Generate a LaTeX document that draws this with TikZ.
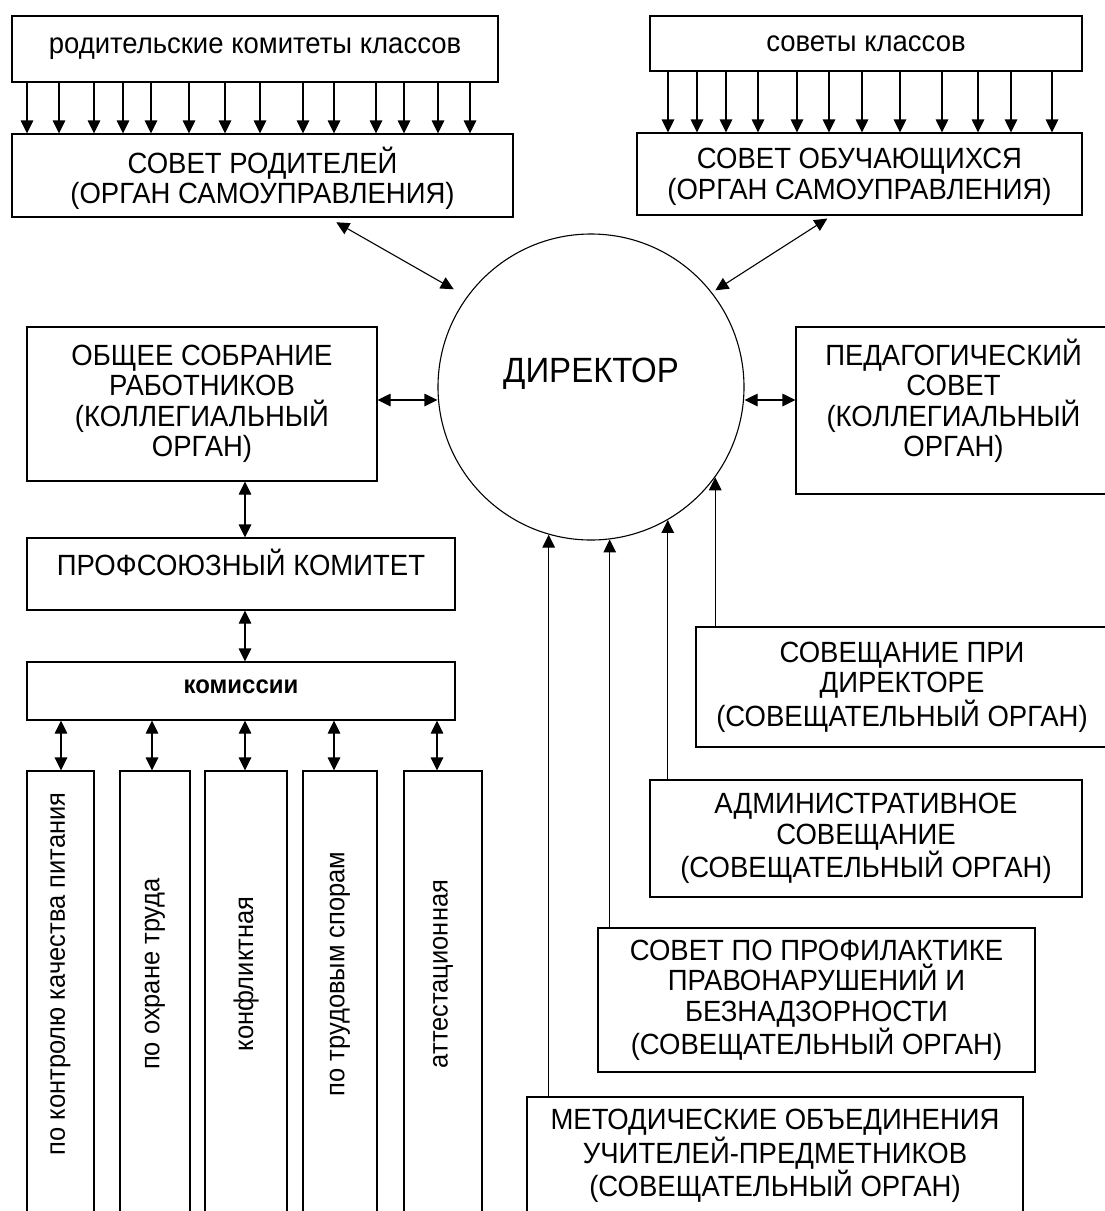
\documentclass[tikz,border=0pt]{standalone}
\usepackage{fontspec}
\setmainfont{Liberation Sans}[FakeStretch=0.94]
\usepackage{graphicx}
\usetikzlibrary{arrows.meta}

\begin{document}
\begin{tikzpicture}[x=1pt,y=-1pt,
    box/.style={draw,line width=1.1pt,inner sep=2pt,align=center,font=\fontsize{29.25}{30.5}\selectfont},
    vbox/.style={box,font=\fontsize{27.1}{28}\selectfont,minimum height=459pt,text depth=53pt},
    arr/.style={-{Triangle[length=13pt,width=12.5pt]},line width=1.1pt},
    darr/.style={{Triangle[length=13pt,width=12.5pt]}-{Triangle[length=13pt,width=12.5pt]},line width=1.1pt}]
    \useasboundingbox (0,0) rectangle (1104,1211);
    % top row
    \node[box,minimum width=486pt,minimum height=66pt] (rk) at (255,49) {родительские комитеты классов};
    \node[box,minimum width=501pt,minimum height=83pt,text depth=0pt] (sr) at (262.5,175.5) {СОВЕТ РОДИТЕЛЕЙ\\(ОРГАН САМОУПРАВЛЕНИЯ)};
    \node[box,minimum width=432pt,minimum height=55pt] (sk) at (866,43.5) {советы классов};
    \node[box,minimum width=445pt,minimum height=82pt,text depth=0pt] (so) at (859.5,174) {СОВЕТ ОБУЧАЮЩИХСЯ\\(ОРГАН САМОУПРАВЛЕНИЯ)};
    \foreach \x in {27,59,94,123,151,189,225,260,303,334,376,404,438,470}
        \draw[arr] (rk.south -| \x,0) -- (sr.north -| \x,0);
    \foreach \x in {668,697,726,758,797,829,862,900,942,978,1011,1052}
        \draw[arr] (sk.south -| \x,0) -- (so.north -| \x,0);
    % director
    \node[draw,circle,line width=1.1pt,minimum size=306pt,inner sep=0pt,font=\fontsize{35.1}{36}\selectfont,text depth=34pt] (dir) at (591,387) {ДИРЕКТОР};
    \draw[darr,shorten <=9.5pt,shorten >=15pt] (sr.south -| 328,0) -- (dir.144);
    \draw[darr,shorten <=5.5pt,shorten >=4pt] (so.south -| 832,0) -- (dir.38);
    % left column
    \node[box,minimum width=350pt,minimum height=154pt] (obs) at (202,404) {ОБЩЕЕ СОБРАНИЕ\\РАБОТНИКОВ\\(КОЛЛЕГИАЛЬНЫЙ\\ОРГАН)};
    \node[box,minimum width=315pt,minimum height=167pt,text depth=25pt] (ped) at (953.5,410.5) {ПЕДАГОГИЧЕСКИЙ\\СОВЕТ\\(КОЛЛЕГИАЛЬНЫЙ\\ОРГАН)};
    \draw[darr] (obs.east |- 0,400) -- (dir.west |- 0,400);
    \draw[darr] (dir.east |- 0,400) -- (ped.west |- 0,400);
    \node[box,minimum width=428pt,minimum height=72pt,text depth=24pt] (prof) at (241,574) {ПРОФСОЮЗНЫЙ КОМИТЕТ};
    \node[box,minimum width=428pt,minimum height=58pt,font=\fontsize{25.5}{28}\selectfont\bfseries,text depth=8pt] (kom) at (241,691) {комиссии};
    \draw[darr] (obs.south -| 245,0) -- (prof.north -| 245,0);
    \draw[darr] (prof.south -| 245,0) -- (kom.north -| 245,0);
    \node[vbox,minimum width=67pt] (k1) at (60.5,1000.5) {\rotatebox{90}{по контролю качества питания}};
    \node[vbox,minimum width=70pt] (k2) at (155,1000.5) {\rotatebox{90}{по охране труда}};
    \node[vbox,minimum width=82pt] (k3) at (246,1000.5) {\rotatebox{90}{конфликтная}};
    \node[vbox,minimum width=74pt] (k4) at (340,1000.5) {\rotatebox{90}{по трудовым спорам}};
    \node[vbox,minimum width=78pt] (k5) at (443,1000.5) {\rotatebox{90}{аттестационная}};
    \foreach \x/\k in {61/k1,152/k2,245/k3,334/k4,437/k5}
        \draw[darr] (kom.south -| \x,0) -- (\k.north -| \x,0);
    % right column
    \node[box,minimum width=412pt,minimum height=120pt] (sp) at (902,687) {СОВЕЩАНИЕ ПРИ\\ДИРЕКТОРЕ\\(СОВЕЩАТЕЛЬНЫЙ ОРГАН)};
    \node[box,minimum width=432pt,minimum height=117pt] (adm) at (866,838.5) {АДМИНИСТРАТИВНОЕ\\СОВЕЩАНИЕ\\(СОВЕЩАТЕЛЬНЫЙ ОРГАН)};
    \node[box,minimum width=437pt,minimum height=144pt] (prf) at (816.5,1000) {СОВЕТ ПО ПРОФИЛАКТИКЕ\\ПРАВОНАРУШЕНИЙ И\\БЕЗНАДЗОРНОСТИ\\(СОВЕЩАТЕЛЬНЫЙ ОРГАН)};
    \node[box,minimum width=496pt,minimum height=118pt] (met) at (775,1156) {МЕТОДИЧЕСКИЕ ОБЪЕДИНЕНИЯ\\УЧИТЕЛЕЙ-ПРЕДМЕТНИКОВ\\(СОВЕЩАТЕЛЬНЫЙ ОРГАН)};
    \draw[arr] (dir.324 |- sp.north) -- (dir.324);
    \draw[arr] (dir.300 |- adm.north) -- (dir.300);
    \draw[arr] (dir.277 |- prf.north) -- (dir.277);
    \draw[arr] (dir.254 |- met.north) -- (dir.254);
\end{tikzpicture}
\end{document}
